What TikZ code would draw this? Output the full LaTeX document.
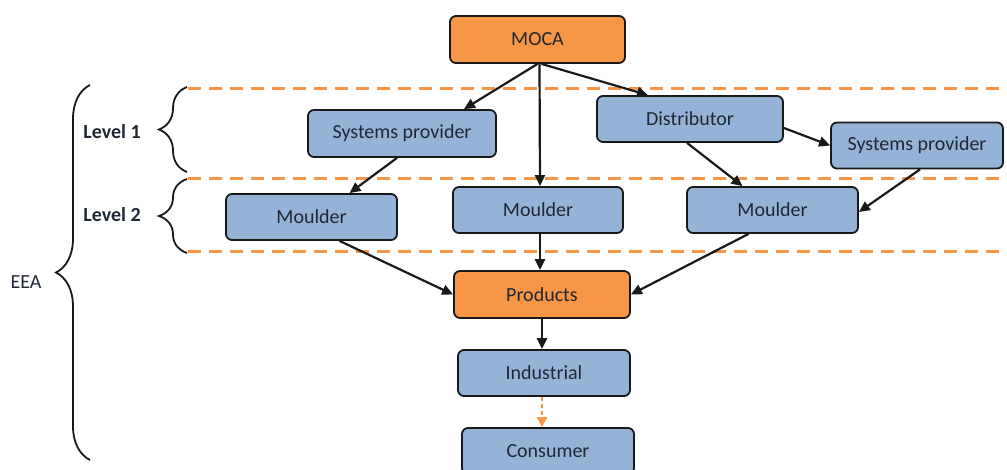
\documentclass[tikz,border=0pt]{standalone}
\usepackage{fontspec}
\setmainfont{Carlito}
\usetikzlibrary{arrows.meta,decorations.pathreplacing,calc}
\definecolor{boxblue}{HTML}{95B3D7}
\definecolor{boxorange}{HTML}{F79646}
\definecolor{dashorange}{HTML}{F79646}
\definecolor{txtdark}{HTML}{1E2834}
\begin{document}
\begin{tikzpicture}[x=1pt,y=-1pt,
  base/.style={draw=black!90,line width=1.8pt,rounded corners=6pt,inner sep=0pt,
    font=\fontsize{20}{24}\selectfont,text=txtdark},
  bluebox/.style={base,fill=boxblue},
  orangebox/.style={base,fill=boxorange},
  conn/.style={line width=2.2pt,black!90,-{Triangle[length=11pt,width=10pt]}},
  dconn/.style={line width=2.2pt,dashorange,dash pattern=on 4pt off 3pt,-{Triangle[length=10pt,width=10pt]}},
  level/.style={draw=dashorange,line width=3pt,dash pattern=on 13pt off 8pt},
  brc/.style={draw=black!90,line width=1.8pt,decorate},
  lbl/.style={font=\fontsize{20}{24}\selectfont\bfseries,text=txtdark},
  elbl/.style={font=\fontsize{20}{24}\selectfont,text=txtdark}]
\useasboundingbox (0,0) rectangle (1007,469);
% dashed level lines
\coordinate (l1a) at (188,88);  \coordinate (l1b) at (1007,88);
\coordinate (l2a) at (188,178); \coordinate (l2b) at (1007,178);
\coordinate (l3a) at (188,251); \coordinate (l3b) at (1007,251);
\draw[level] (l1a) -- (l1b);
\draw[level] (l2a) -- (l2b);
\draw[level] (l3a) -- (l3b);
% nodes
\node[orangebox,minimum width=175pt,minimum height=47pt] (moca) at (537.5,39.5) {MOCA};
\node[bluebox,minimum width=188pt,minimum height=47pt] (spL) at (402,133.5) {Systems provider};
\node[bluebox,minimum width=186pt,minimum height=46pt] (dist) at (690,119) {Distributor};
\node[bluebox,minimum width=172pt,minimum height=46pt] (spR) at (917,145.5) {Systems provider};
\node[bluebox,minimum width=171pt,minimum height=46pt] (mL) at (311.5,217) {Moulder};
\node[bluebox,minimum width=170pt,minimum height=46pt] (mM) at (538,210) {Moulder};
\node[bluebox,minimum width=171pt,minimum height=46pt] (mR) at (772.5,210) {Moulder};
\node[orangebox,minimum width=176pt,minimum height=47pt] (prod) at (542,294.5) {Products};
\node[bluebox,minimum width=172pt,minimum height=46pt] (ind) at (544,373) {Industrial};
\node[bluebox,minimum width=172pt,minimum height=46pt] (cons) at (548,451) {Consumer};
% connectors
\draw[conn] (moca.south) -- ([xshift=62pt]spL.north);
\draw[conn] ([xshift=2pt]moca.south) -- ([xshift=2pt]mM.north);
\draw[conn] ([xshift=4pt]moca.south) -- ([xshift=-42pt]dist.north);
\draw[conn] ([xshift=-5pt]spL.south) -- ([xshift=38pt]mL.north);
\draw[conn] ([xshift=-3pt]dist.south) -- ([xshift=-30pt]mR.north);
\draw[conn] ([yshift=-9pt]dist.east) -- (spR.west);
\draw[conn] ([xshift=3pt]spR.south) -- ([yshift=-2pt]mR.east);
\draw[conn] ([xshift=28pt]mL.south) -- (prod.west);
\draw[conn] ([xshift=2pt]mM.south) -- ([xshift=-2pt]prod.north);
\draw[conn] ([xshift=-24pt]mR.south) -- (prod.east);
\draw[conn] (prod.south) -- ([xshift=-2pt]ind.north);
\draw[dconn] ([xshift=-2pt]ind.south) -- ([xshift=-6pt]cons.north);
% braces
\coordinate (b1t) at (187,87);  \coordinate (b1b) at (187,172);
\coordinate (b2t) at (187,179); \coordinate (b2b) at (187,253);
\coordinate (bet) at (90,85);   \coordinate (beb) at (90,460);
\draw[brc,decoration={brace,amplitude=28pt}] (b1b) -- (b1t);
\draw[brc,decoration={brace,amplitude=28pt}] (b2b) -- (b2t);
\draw[brc,decoration={brace,amplitude=34pt}] (beb) -- (bet);
\node[lbl] (lv1) at (112,132) {Level 1};
\node[lbl] (lv2) at (112,215) {Level 2};
\node[elbl] (eea) at (26,282) {EEA};
\end{tikzpicture}
\end{document}
